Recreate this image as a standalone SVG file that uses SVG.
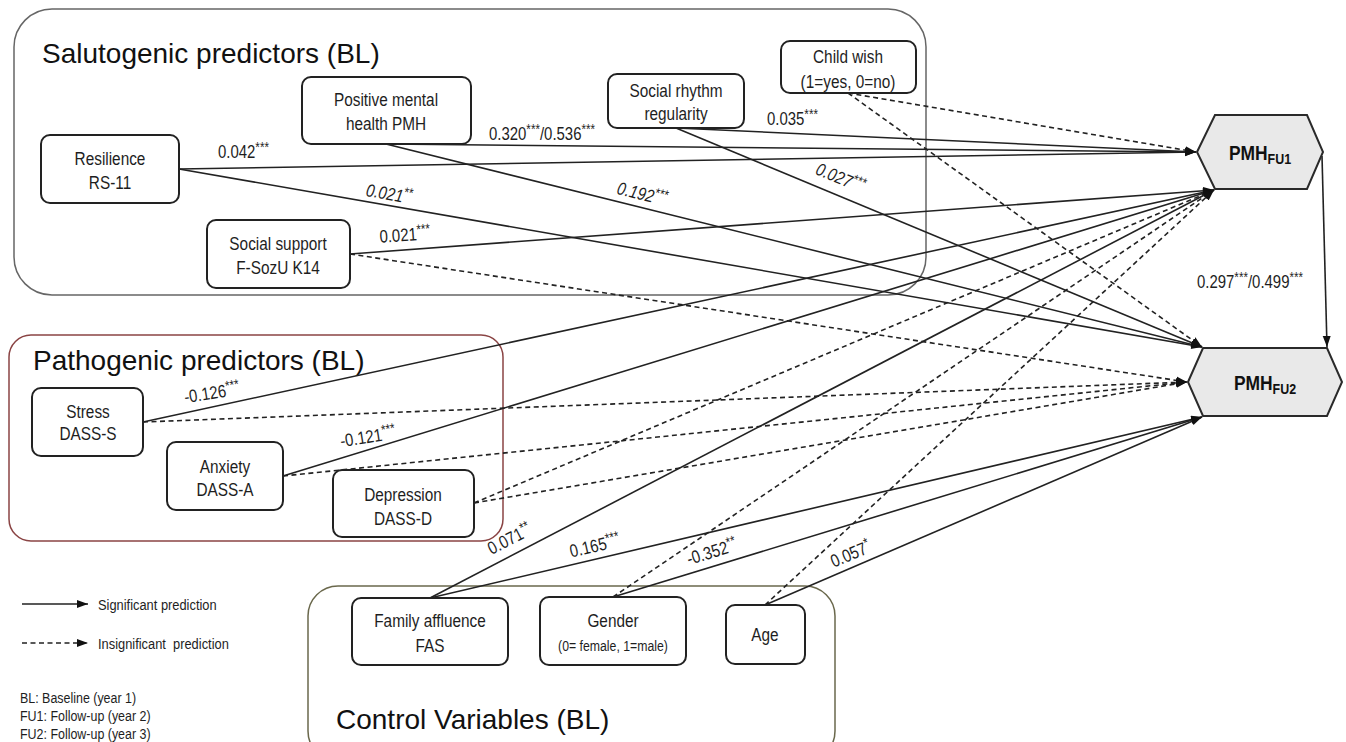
<svg xmlns="http://www.w3.org/2000/svg" width="1346" height="742" viewBox="0 0 1346 742">
<style>
text{font-family:"Liberation Sans",Arial,Helvetica,sans-serif;fill:#1e1e1e}
.box{fill:#fff;stroke:#222;stroke-width:2}
.hex{fill:#e9e9e9;stroke:#2a2a2a;stroke-width:2}
.nt{font-size:18.5px;text-anchor:middle}
.gt{font-size:28px;fill:#111}
.lb{font-size:18px}
.it{font-style:italic}
.s{font-size:14px}
.mid{text-anchor:middle}
.hx{font-weight:bold;font-size:21px;text-anchor:middle;fill:#111}
.e{stroke:#222;stroke-width:1.6;fill:none;marker-end:url(#ah)}
.d{stroke-dasharray:5 3.5}
.leg{font-size:15.5px}
</style>
<defs>
<marker id="ah" markerUnits="userSpaceOnUse" markerWidth="12" markerHeight="9" refX="11" refY="4" orient="auto">
<path d="M0,0 L11,4 L0,8 z" fill="#111"/>
</marker>
</defs>

<g id="salutogenic-group">
<rect x="14" y="9" width="912" height="286" rx="38" fill="none" stroke="#666" stroke-width="1.5"/>
<text class="gt" x="42" y="63">Salutogenic predictors (BL)</text>
</g>
<g id="pathogenic-group">
<rect x="9" y="335" width="494" height="206" rx="22" fill="none" stroke="#8a4444" stroke-width="1.5"/>
<text class="gt" x="33" y="370">Pathogenic predictors (BL)</text>
</g>
<g id="control-group">
<rect x="308" y="586" width="527" height="175" rx="30" fill="none" stroke="#6a684c" stroke-width="1.5"/>
<text class="gt" x="336" y="729">Control Variables (BL)</text>
</g>

<g id="connectors">
<line class="e" x1="179" y1="169" x2="1196" y2="152"/>
<line class="e" x1="386" y1="144" x2="1196" y2="152"/>
<line class="e" x1="676" y1="128" x2="1196" y2="152"/>
<line class="e d" x1="848" y1="93" x2="1196" y2="152"/>
<line class="e" x1="179" y1="169" x2="1202" y2="347"/>
<line class="e" x1="386" y1="144" x2="1202" y2="347"/>
<line class="e" x1="676" y1="128" x2="1202" y2="347"/>
<line class="e d" x1="848" y1="93" x2="1202" y2="347"/>
<line class="e" x1="350" y1="254" x2="1214" y2="190"/>
<line class="e d" x1="350" y1="254" x2="1187" y2="382"/>
<line class="e" x1="143" y1="422" x2="1214" y2="190"/>
<line class="e d" x1="143" y1="422" x2="1187" y2="382"/>
<line class="e" x1="283" y1="476" x2="1214" y2="190"/>
<line class="e d" x1="283" y1="476" x2="1187" y2="382"/>
<line class="e d" x1="474" y1="503" x2="1214" y2="190"/>
<line class="e d" x1="474" y1="503" x2="1187" y2="382"/>
<line class="e" x1="430" y1="598" x2="1214" y2="190"/>
<line class="e" x1="430" y1="598" x2="1202" y2="417"/>
<line class="e d" x1="613" y1="597" x2="1214" y2="190"/>
<line class="e" x1="613" y1="597" x2="1202" y2="417"/>
<line class="e d" x1="765" y1="605" x2="1214" y2="190"/>
<line class="e" x1="765" y1="605" x2="1202" y2="417"/>
<line class="e" x1="1322" y1="156" x2="1327" y2="347"/>

<text class="lb" transform="translate(218,158) scale(.83,1)">0.042<tspan class="s" dy="-6">***</tspan></text>
<text class="lb" transform="translate(489,140) scale(.83,1)">0.320<tspan class="s" dy="-6">***</tspan><tspan dy="6">/0.536</tspan><tspan class="s" dy="-6">***</tspan></text>
<text class="lb" transform="translate(767,125) scale(.83,1)">0.035<tspan class="s" dy="-6">***</tspan></text>
<text class="lb it mid" transform="translate(389,195) rotate(10) scale(.83,1)" y="5">0.021<tspan class="s" dy="-6">**</tspan></text>
<text class="lb it mid" transform="translate(642,195) rotate(14) scale(.83,1)" y="5">0.192<tspan class="s" dy="-6">***</tspan></text>
<text class="lb it mid" transform="translate(840,179) rotate(22.7) scale(.83,1)" y="5">0.027<tspan class="s" dy="-6">***</tspan></text>
<text class="lb mid" transform="translate(405,236) rotate(-4) scale(.83,1)" y="5">0.021<tspan class="s" dy="-6">***</tspan></text>
<text class="lb mid" transform="translate(212,394) rotate(-9) scale(.83,1)" y="5">-0.126<tspan class="s" dy="-6">***</tspan></text>
<text class="lb mid" transform="translate(368,438) rotate(-9) scale(.83,1)" y="5">-0.121<tspan class="s" dy="-6">***</tspan></text>
<text class="lb mid" transform="translate(510,540) rotate(-27) scale(.83,1)" y="5">0.071<tspan class="s" dy="-6">**</tspan></text>
<text class="lb mid" transform="translate(595,547) rotate(-13) scale(.83,1)" y="5">0.165<tspan class="s" dy="-6">***</tspan></text>
<text class="lb mid" transform="translate(712,553) rotate(-17) scale(.83,1)" y="5">-0.352<tspan class="s" dy="-6">**</tspan></text>
<text class="lb mid" transform="translate(851,555) rotate(-23) scale(.83,1)" y="5">0.057<tspan class="s" dy="-6">*</tspan></text>
<text class="lb" transform="translate(1197,288) scale(.83,1)">0.297<tspan class="s" dy="-6">***</tspan><tspan dy="6">/0.499</tspan><tspan class="s" dy="-6">***</tspan></text>
</g>

<g id="resilience">
<rect class="box" x="41" y="135" width="138" height="68" rx="9"/>
<text class="nt" transform="translate(110,165) scale(.83,1)">Resilience</text>
<text class="nt" transform="translate(110,189) scale(.83,1)">RS-11</text>
</g>
<g id="pmh">
<rect class="box" x="302" y="77" width="169" height="67" rx="9"/>
<text class="nt" transform="translate(386,106) scale(.83,1)">Positive mental</text>
<text class="nt" transform="translate(386,130) scale(.83,1)">health PMH</text>
</g>
<g id="social-rhythm">
<rect class="box" x="608" y="74" width="136" height="54" rx="9"/>
<text class="nt" transform="translate(676,97) scale(.83,1)">Social rhythm</text>
<text class="nt" transform="translate(676,120) scale(.83,1)">regularity</text>
</g>
<g id="child-wish">
<rect class="box" x="781" y="41" width="135" height="52" rx="9"/>
<text class="nt" transform="translate(848,63) scale(.83,1)">Child wish</text>
<text class="nt" transform="translate(848,88) scale(.83,1)">(1=yes, 0=no)</text>
</g>
<g id="social-support">
<rect class="box" x="207" y="220" width="143" height="68" rx="9"/>
<text class="nt" transform="translate(278,250) scale(.83,1)">Social support</text>
<text class="nt" transform="translate(278,274) scale(.83,1)">F-SozU K14</text>
</g>
<g id="stress">
<rect class="box" x="32" y="388" width="111" height="68" rx="9"/>
<text class="nt" transform="translate(88,418) scale(.83,1)">Stress</text>
<text class="nt" transform="translate(88,440) scale(.83,1)">DASS-S</text>
</g>
<g id="anxiety">
<rect class="box" x="167" y="442" width="116" height="68" rx="9"/>
<text class="nt" transform="translate(225,473) scale(.83,1)">Anxiety</text>
<text class="nt" transform="translate(225,496) scale(.83,1)">DASS-A</text>
</g>
<g id="depression">
<rect class="box" x="333" y="470" width="141" height="67" rx="9"/>
<text class="nt" transform="translate(403,501) scale(.83,1)">Depression</text>
<text class="nt" transform="translate(403,525) scale(.83,1)">DASS-D</text>
</g>
<g id="family-affluence">
<rect class="box" x="352" y="598" width="156" height="67" rx="9"/>
<text class="nt" transform="translate(430,627) scale(.83,1)">Family affluence</text>
<text class="nt" transform="translate(430,652) scale(.83,1)">FAS</text>
</g>
<g id="gender">
<rect class="box" x="540" y="597" width="146" height="68" rx="9"/>
<text class="nt" transform="translate(613,627) scale(.83,1)">Gender</text>
<text class="nt" transform="translate(613,651) scale(.83,1)" style="font-size:14.8px">(0= female, 1=male)</text>
</g>
<g id="age">
<rect class="box" x="726" y="605" width="79" height="59" rx="9"/>
<text class="nt" transform="translate(765,641) scale(.83,1)">Age</text>
</g>
<g id="pmh-fu1">
<polygon class="hex" points="1197,152 1215,115 1307,115 1323,152 1307,189 1215,189"/>
<text class="hx" transform="translate(1260,160) scale(.83,1)">PMH<tspan dy="4" style="font-size:15px">FU1</tspan></text>
</g>
<g id="pmh-fu2">
<polygon class="hex" points="1188,382 1203,348 1327,348 1342,382 1327,416 1203,416"/>
<text class="hx" transform="translate(1265,390) scale(.83,1)">PMH<tspan dy="4" style="font-size:15px">FU2</tspan></text>
</g>

<g id="legend">
<line class="e" x1="22" y1="604" x2="88" y2="604"/>
<line class="e d" x1="22" y1="643" x2="88" y2="643"/>
<text class="leg" transform="translate(98,610) scale(.83,1)">Significant prediction</text>
<text class="leg" transform="translate(98,649) scale(.83,1)" xml:space="preserve">Insignificant  prediction</text>
<text class="leg" transform="translate(20,703) scale(.83,1)" style="font-size:15px">BL: Baseline (year 1)</text>
<text class="leg" transform="translate(20,721) scale(.83,1)" style="font-size:15px">FU1: Follow-up (year 2)</text>
<text class="leg" transform="translate(20,739) scale(.83,1)" style="font-size:15px">FU2: Follow-up (year 3)</text>
</g>
</svg>
